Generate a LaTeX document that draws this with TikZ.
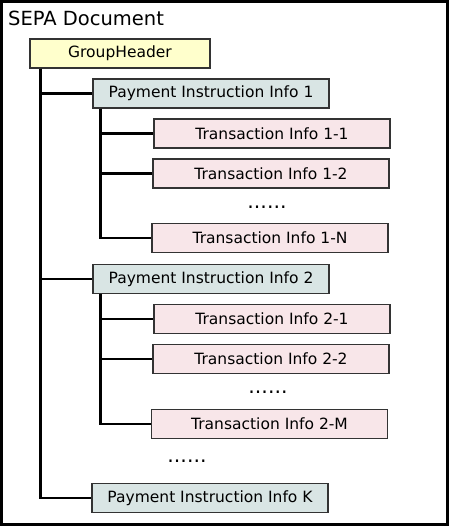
\documentclass[tikz,border=0pt]{standalone}
\usepackage{fontspec}
\setmainfont{DejaVu Sans}
\usepackage{tikz}
\usepackage{xcolor}
\definecolor{headfill}{HTML}{FFFFCC}
\definecolor{pmtfill}{HTML}{D9E5E4}
\definecolor{txfill}{HTML}{F8E6E9}
\definecolor{boxline}{HTML}{333333}
\tikzstyle{boxes} = [rectangle, minimum width=236pt, minimum height=29pt, text centered,
draw=boxline, line width=1.3pt, font=\fontsize{15.5}{18}\selectfont]
\tikzstyle{header} = [boxes, minimum width=180pt, fill=headfill]
\tikzstyle{pmt} = [boxes, fill=pmtfill]
\tikzstyle{tx} = [boxes, fill=txfill]
\tikzstyle{dots} = [inner sep=0pt, font=\fontsize{20.5}{24}\selectfont]
\tikzstyle{branch} = [line width=2.6pt, black]
\usetikzlibrary{positioning}

\begin{document}
\begin{tikzpicture}[x=1pt, y=-1pt, node distance=40pt]
        \useasboundingbox (0,0) rectangle (450,527);
        \draw[line width=3pt] (1.5,1.5) rectangle (447.5,524.5);

        \node[anchor=base west, inner sep=0pt, font=\fontsize{19.5}{23}\selectfont] (title) at (8,26) {SEPA Document};

        \node[header] (gh) at (120,53.5) {GroupHeader};
        \node[pmt, below of=gh, xshift=91pt] (pii1) {Payment Instruction Info 1};
        \node[tx, below of=pii1, xshift=61pt] (t11) {Transaction Info 1-1};
        \node[tx, below of=t11, xshift=-1pt] (t12) {Transaction Info 1-2};
        \node[dots, below of=t12, xshift=-4pt, yshift=6.5pt] (dots1) {......};
        \node[tx, below of=dots1, xshift=3pt, yshift=9pt] (t1n) {Transaction Info 1-N};
        \node[pmt, below of=t1n, xshift=-59pt, yshift=-1pt] (pii2) {Payment Instruction Info 2};
        \node[tx, below of=pii2, xshift=61pt] (t21) {Transaction Info 2-1};
        \node[tx, below of=t21, xshift=-1pt] (t22) {Transaction Info 2-2};
        \node[dots, below of=t22, xshift=-3pt, yshift=6.5pt] (dots2) {......};
        \node[tx, below of=dots2, xshift=1.5pt, yshift=8.5pt] (t2m) {Transaction Info 2-M};
        \node[dots, below of=t2m, xshift=-82.5pt, yshift=2.5pt] (dots3) {......};
        \node[pmt, below of=dots3, xshift=23pt, yshift=3.5pt] (piik) {Payment Instruction Info K};

        \coordinate (spine) at ([xshift=11pt]gh.south west);
        \coordinate (sub1) at ([xshift=8pt]pii1.south west);
        \coordinate (sub2) at ([xshift=8pt]pii2.south west);

        \draw[branch] (spine) |- (pii1.west);
        \draw[branch] (spine) |- (pii2.west);
        \draw[branch] (spine) |- (piik.west);

        \draw[branch] (sub1) |- (t11.west);
        \draw[branch] (sub1) |- (t12.west);
        \draw[branch] (sub1) |- (t1n.west);

        \draw[branch] (sub2) |- (t21.west);
        \draw[branch] (sub2) |- (t22.west);
        \draw[branch] (sub2) |- (t2m.west);

    \end{tikzpicture}
\end{document}
